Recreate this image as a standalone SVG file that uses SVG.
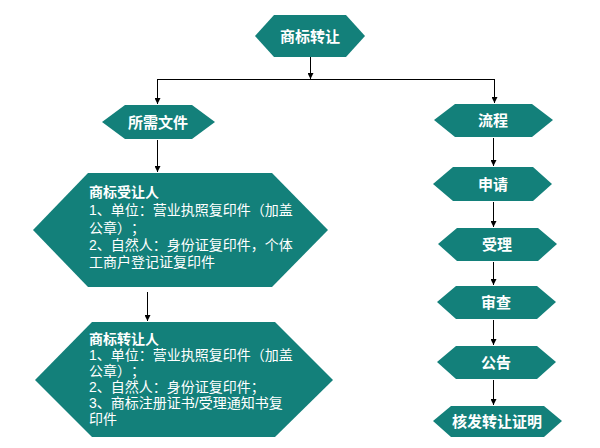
<svg xmlns="http://www.w3.org/2000/svg" width="600" height="448" viewBox="0 0 600 448">
<defs>
<marker id="ah" markerWidth="6" markerHeight="6" refX="6" refY="3" orient="auto" markerUnits="userSpaceOnUse">
<path d="M0,0 L6,3 L0,6 z" fill="#000"/>
</marker>
<style>
.hex{fill:#13807a;stroke:none}
.lbl{font-family:"Liberation Sans","Noto Sans CJK SC",sans-serif;font-weight:bold;font-size:15px;fill:#fff;text-anchor:middle}
.body{font-family:"Liberation Sans","Noto Sans CJK SC",sans-serif;font-size:14px;fill:#fff;text-spacing-trim:space-all;font-kerning:none}
.ttl{font-weight:bold}
.ln{stroke:#000;stroke-width:1;fill:none}
.ar{stroke:#000;stroke-width:1;fill:none;marker-end:url(#ah)}
</style>
</defs>
<rect width="600" height="448" fill="#fff"/>
<g id="connectors">
<path class="ar" d="M310.5,57 V79"/>
<path class="ln" d="M157.5,79.5 H494.5"/>
<path class="ar" d="M157.5,79 V104"/>
<path class="ar" d="M494.5,79 V103"/>
<path class="ar" d="M157.5,140 V172"/>
<path class="ar" d="M147.5,292 V321"/>
<path class="ar" d="M493.5,138 V166"/>
<path class="ar" d="M493.5,202 V227"/>
<path class="ar" d="M493.5,262 V285"/>
<path class="ar" d="M493.5,320 V345"/>
<path class="ar" d="M493.5,380 V405"/>
</g>
<g id="n-top">
<polygon class="hex" points="255,36 274,15 346,15 365,36 346,57 274,57"/>
<text class="lbl" x="310" y="42">商标转让</text>
</g>
<g id="n-docs">
<polygon class="hex" points="102,122 125,105 192,105 215,122 192,139 125,139"/>
<text class="lbl" x="158" y="128">所需文件</text>
</g>
<g id="n-flow">
<polygon class="hex" points="434,120 455,104 532,104 553,120 532,137 455,137"/>
<text class="lbl" x="493" y="126">流程</text>
</g>
<g id="n-assignee">
<polygon class="hex" points="33,230 88,173 272,173 328,230 272,287 88,287"/>
<text class="body" x="89" y="197"><tspan class="ttl">商标受让人</tspan></text>
<text class="body" x="89" y="215">1、单位：营业执照复印件（加盖</text>
<text class="body" x="89" y="233">公章）；</text>
<text class="body" x="89" y="250">2、自然人：身份证复印件，个体</text>
<text class="body" x="89" y="267">工商户登记证复印件</text>
</g>
<g id="n-assignor">
<polygon class="hex" points="35,380 92,322 275,322 333,380 275,437 92,437"/>
<text class="body" x="89" y="344"><tspan class="ttl">商标转让人</tspan></text>
<text class="body" x="89" y="360">1、单位：营业执照复印件（加盖</text>
<text class="body" x="89" y="376">公章）；</text>
<text class="body" x="89" y="392">2、自然人：身份证复印件；</text>
<text class="body" x="89" y="408">3、商标注册证书/受理通知书复</text>
<text class="body" x="89" y="424">印件</text>
</g>
<g id="n-apply">
<polygon class="hex" points="433,184 453,167 533,167 552,184 533,201 453,201"/>
<text class="lbl" x="493" y="190">申请</text>
</g>
<g id="n-accept">
<polygon class="hex" points="438,244 457,228 538,228 557,244 538,261 457,261"/>
<text class="lbl" x="497" y="250">受理</text>
</g>
<g id="n-review">
<polygon class="hex" points="437,302 456,286 537,286 556,302 537,319 456,319"/>
<text class="lbl" x="496" y="308">审查</text>
</g>
<g id="n-announce">
<polygon class="hex" points="437,362 456,346 537,346 556,362 537,379 456,379"/>
<text class="lbl" x="496" y="368">公告</text>
</g>
<g id="n-cert">
<polygon class="hex" points="433,421 451,406 544,406 562,421 544,437 451,437"/>
<text class="lbl" x="497" y="427">核发转让证明</text>
</g>
</svg>
